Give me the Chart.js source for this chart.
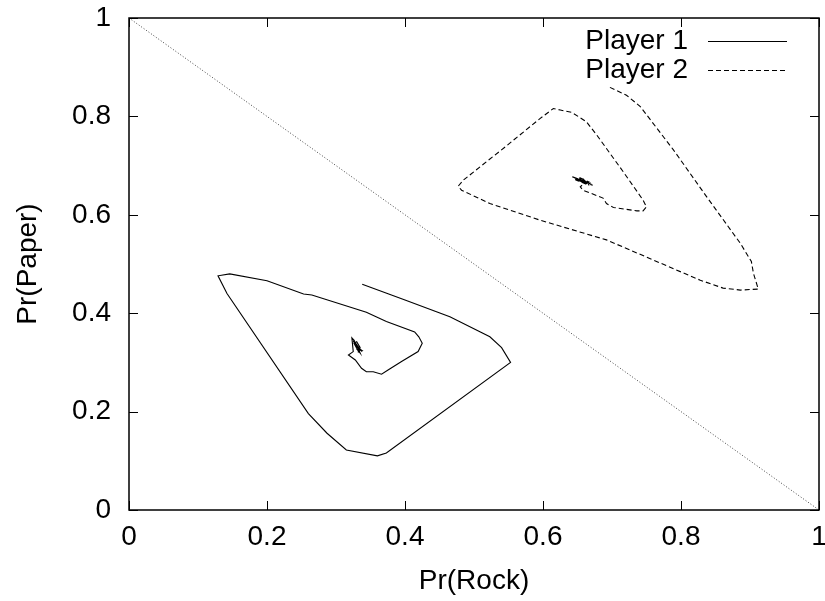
<!DOCTYPE html>
<html>
<head>
<meta charset="utf-8">
<script src="https://cdn.jsdelivr.net/npm/chart.js@4/dist/chart.umd.min.js"></script>
<style>
  html, body { margin: 0; padding: 0; background: #fff; }
  #wrap { width: 825px; height: 601px; }
</style>
</head>
<body>
<div id="wrap"><canvas id="c" width="825" height="601"></canvas></div>
<script>
// Tick positions for both axes
const xTicks = [0, 0.2, 0.4, 0.6, 0.8, 1];
const yTicks = [0, 0.2, 0.4, 0.6, 0.8, 1];

// Player 1 trajectory (solid): Pr(Rock), Pr(Paper)
const player1Rock = [0.338, 0.400, 0.465, 0.523, 0.540, 0.553, 0.373, 0.360, 0.315, 0.287, 0.260, 0.142, 0.129, 0.146, 0.200, 0.253, 0.265, 0.344, 0.373, 0.414, 0.420, 0.425, 0.419, 0.395, 0.376, 0.366, 0.354, 0.344, 0.337, 0.328, 0.318, 0.325,
  0.323, 0.327, 0.324, 0.329, 0.325, 0.331, 0.327, 0.334, 0.329, 0.336, 0.330, 0.338, 0.332, 0.335, 0.331, 0.337, 0.328, 0.333, 0.326, 0.330, 0.335, 0.332];
const player1Paper = [0.459, 0.427, 0.393, 0.352, 0.330, 0.300, 0.116, 0.110, 0.122, 0.156, 0.196, 0.440, 0.476, 0.480, 0.466, 0.439, 0.437, 0.402, 0.383, 0.362, 0.352, 0.339, 0.322, 0.302, 0.285, 0.276, 0.281, 0.281, 0.288, 0.305, 0.315, 0.322,
  0.350, 0.344, 0.348, 0.338, 0.343, 0.333, 0.340, 0.328, 0.336, 0.324, 0.331, 0.322, 0.329, 0.319, 0.326, 0.325, 0.334, 0.321, 0.339, 0.342, 0.330, 0.320];

// Player 2 trajectory (dashed)
const player2Rock = [0.697, 0.721, 0.741, 0.789, 0.837, 0.886, 0.902, 0.905, 0.912, 0.886, 0.861, 0.828, 0.692, 0.596, 0.523, 0.482, 0.477, 0.485, 0.547, 0.596, 0.615, 0.625, 0.642, 0.663, 0.678, 0.716, 0.745, 0.750, 0.745, 0.736, 0.702, 0.692, 0.687, 0.658, 0.654,
  0.660, 0.645, 0.664, 0.650, 0.668, 0.641, 0.657, 0.670, 0.648, 0.662, 0.653, 0.672, 0.646, 0.659, 0.651, 0.666, 0.655, 0.663, 0.649, 0.658, 0.667];
const player2Paper = [0.859, 0.843, 0.820, 0.732, 0.637, 0.542, 0.505, 0.481, 0.449, 0.447, 0.451, 0.467, 0.549, 0.589, 0.623, 0.650, 0.658, 0.671, 0.740, 0.796, 0.816, 0.813, 0.808, 0.789, 0.762, 0.688, 0.630, 0.616, 0.608, 0.608, 0.615, 0.623, 0.634, 0.650, 0.657,
  0.664, 0.676, 0.665, 0.673, 0.663, 0.678, 0.670, 0.662, 0.674, 0.668, 0.671, 0.660, 0.672, 0.666, 0.677, 0.667, 0.668, 0.662, 0.670, 0.673, 0.660];

// Simplex boundary Pr(Rock) + Pr(Paper) = 1
const boundaryRock = [0, 1];
const boundaryPaper = [1, 0];

const seriesNames = ['Player 1', 'Player 2'];

const toPoints = (xs, ys) => xs.map((x, i) => ({ x: x, y: ys[i] }));

const FONT = '"Liberation Sans", Arial, Helvetica, sans-serif';
const FONT_SIZE = 28;

// Frame, inward ticks and a gnuplot-style legend (label, then line sample)
const framePlugin = {
  id: 'frame',
  afterDraw(chart) {
    const { ctx, chartArea: a, scales } = chart;
    ctx.save();
    ctx.strokeStyle = '#000';
    ctx.lineWidth = 1;
    const tl = 9;
    ctx.beginPath();
    xTicks.forEach(v => {
      const px = Math.round(scales.x.getPixelForValue(v)) + 0.5;
      ctx.moveTo(px, a.bottom); ctx.lineTo(px, a.bottom - tl);
      ctx.moveTo(px, a.top); ctx.lineTo(px, a.top + tl);
    });
    yTicks.forEach(v => {
      const py = Math.round(scales.y.getPixelForValue(v)) + 0.5;
      ctx.moveTo(a.left, py); ctx.lineTo(a.left + tl, py);
      ctx.moveTo(a.right, py); ctx.lineTo(a.right - tl, py);
    });
    ctx.stroke();
    ctx.lineWidth = 1.5;
    ctx.strokeRect(a.left, a.top, a.right - a.left, a.bottom - a.top);

    // legend
    ctx.font = FONT_SIZE + 'px ' + FONT;
    ctx.fillStyle = '#000';
    ctx.textAlign = 'right';
    ctx.textBaseline = 'middle';
    const textRight = a.right - 131;
    const lineL = a.right - 111, lineR = a.right - 32;
    const rows = [a.top + 23, a.top + 52];
    seriesNames.forEach((name, i) => {
      ctx.fillText(name, textRight, rows[i]);
      const ds = chart.data.datasets[i];
      ctx.setLineDash(ds.borderDash || []);
      ctx.lineWidth = 1;
      ctx.strokeStyle = ds.borderColor;
      ctx.beginPath();
      ctx.moveTo(lineL, rows[i] + 0.5);
      ctx.lineTo(lineR, rows[i] + 0.5);
      ctx.stroke();
    });
    ctx.restore();
  }
};

new Chart(document.getElementById('c'), {
  type: 'scatter',
  data: {
    datasets: [
      {
        label: seriesNames[0],
        data: toPoints(player1Rock, player1Paper),
        showLine: true, borderColor: '#000', borderWidth: 1.1,
        pointRadius: 0, tension: 0, fill: false
      },
      {
        label: seriesNames[1],
        data: toPoints(player2Rock, player2Paper),
        showLine: true, borderColor: '#000', borderWidth: 1.1, borderDash: [5, 3],
        pointRadius: 0, tension: 0, fill: false
      },
      {
        label: 'boundary',
        data: toPoints(boundaryRock, boundaryPaper),
        showLine: true, borderColor: '#444', borderWidth: 1, borderDash: [1, 2],
        pointRadius: 0, tension: 0, fill: false
      }
    ]
  },
  options: {
    responsive: false,
    animation: false,
    layout: { padding: { top: 18, right: 6, left: 0, bottom: 0 } },
    plugins: { legend: { display: false }, tooltip: { enabled: false } },
    scales: {
      x: {
        type: 'linear', min: 0, max: 1,
        afterBuildTicks: s => { s.ticks = xTicks.map(v => ({ value: v })); },
        afterFit: s => { s.height = 91; s.paddingLeft = 0; s.paddingRight = 0; },
        grid: { display: false, drawTicks: false },
        border: { display: false },
        ticks: { color: '#000', font: { family: FONT, size: FONT_SIZE }, padding: 10, maxRotation: 0,
          callback: v => String(v) },
        title: { display: true, text: 'Pr(Rock)', color: '#000', font: { family: FONT, size: FONT_SIZE }, padding: { top: 0, bottom: 3 } }
      },
      y: {
        type: 'linear', min: 0, max: 1,
        afterBuildTicks: s => { s.ticks = yTicks.map(v => ({ value: v })); },
        afterFit: s => { s.width = 129; s.paddingTop = 0; s.paddingBottom = 0; },
        grid: { display: false, drawTicks: false },
        border: { display: false },
        ticks: { color: '#000', font: { family: FONT, size: FONT_SIZE }, padding: 18,
          callback: v => String(v) },
        title: { display: true, text: 'Pr(Paper)', color: '#000', font: { family: FONT, size: FONT_SIZE }, padding: { top: 11, bottom: 0 } }
      }
    }
  },
  plugins: [framePlugin]
});
</script>
</body>
</html>
